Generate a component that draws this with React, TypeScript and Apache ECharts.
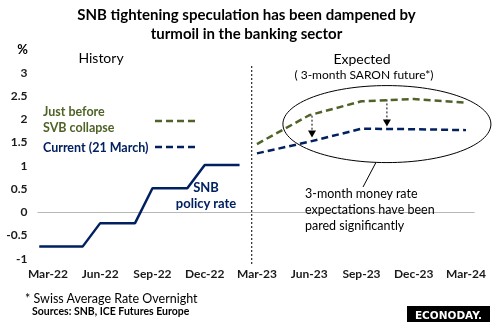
import React, { useEffect, useRef } from 'react';
import * as echarts from 'echarts';

// ---------- data ----------
const xTickValues = [0, 3, 6, 9, 12, 15, 18, 21, 24]; // months since Mar-22
const xTickLabels = ['Mar-22', 'Jun-22', 'Sep-22', 'Dec-22', 'Mar-23', 'Jun-23', 'Sep-23', 'Dec-23', 'Mar-24'];

const policyMonths = [-0.5, 2, 3, 5, 6, 8, 9, 11];
const policyRate = [-0.75, -0.75, -0.25, -0.25, 0.5, 0.5, 1.0, 1.0];

const futuresMonths = [12, 15, 18, 21, 24];
const beforeSVB = [1.45, 2.07, 2.37, 2.42, 2.34];
const current21Mar = [1.25, 1.5, 1.78, 1.77, 1.75];

// ---------- annotation anchors (data space) ----------
const xMin = -0.6;
const xMax = 24.5;
const dividerMonth = 11.7;
const ellipseCenter = [19.46, 1.88];
const arrowMarks = [
  { m: 15.16, from: 2.06, to: 1.59 },
  { m: 19.46, from: 2.41, to: 1.83 },
];

const GREEN = '#4F6228';
const NAVY = '#002060';
const FONT = 'Lato';

export default function App() {
  const ref = useRef<HTMLDivElement>(null);

  useEffect(() => {
    const chart = echarts.init(ref.current as HTMLDivElement, null, { renderer: 'svg' });
    const zip = (xs: number[], ys: number[]) => xs.map((x, i) => [x, ys[i]]);

    chart.setOption({
      animation: false,
      title: {
        text: 'SNB tightening speculation has been dampened by\nturmoil in the banking sector',
        left: 'center',
        top: 4,
        padding: 0,
        textStyle: { fontFamily: FONT, fontSize: 15, fontWeight: 'bold', color: '#000', lineHeight: 19 },
      },
      grid: { left: 37.5, right: 18.3, top: 72, bottom: 69 },
      xAxis: {
        type: 'value',
        min: xMin,
        max: xMax,
        axisLine: { show: false },
        axisTick: { show: false },
        splitLine: { show: false },
        axisLabel: {
          customValues: xTickValues,
          formatter: (v: number) => xTickLabels[xTickValues.indexOf(Math.round(v))] ?? '',
          margin: 9,
          fontFamily: FONT,
          fontSize: 12,
          fontWeight: 'bold',
          color: '#1a1a1a',
        },
      },
      yAxis: {
        type: 'value',
        min: -1,
        max: 3,
        interval: 0.5,
        axisLine: { show: false },
        axisTick: { show: false },
        splitLine: { show: false },
        axisLabel: { margin: 10, fontFamily: FONT, fontSize: 12, fontWeight: 'bold', color: '#1a1a1a' },
      },
      series: [
        {
          name: 'SNB policy rate',
          type: 'line',
          data: zip(policyMonths, policyRate),
          symbol: 'none',
          z: 3,
          lineStyle: { color: NAVY, width: 2.5 },
        },
        {
          name: 'Just before SVB collapse',
          type: 'line',
          data: zip(futuresMonths, beforeSVB),
          symbol: 'none',
          z: 3,
          lineStyle: { color: GREEN, width: 2.5, type: [7, 4] },
        },
        {
          name: 'Current (21 March)',
          type: 'line',
          data: zip(futuresMonths, current21Mar),
          symbol: 'none',
          z: 3,
          lineStyle: { color: NAVY, width: 2.5, type: [7, 4] },
        },
      ],
    });

    const px = (m: number, v: number) => chart.convertToPixel({ gridIndex: 0 }, [m, v]) as number[];

    const txt = (text: string, x: number, y: number, o: any = {}) => ({
      type: 'text',
      silent: true,
      style: {
        text,
        x,
        y,
        fill: o.fill ?? '#000',
        fontFamily: FONT,
        fontSize: o.size ?? 13,
        fontWeight: o.weight ?? 'normal',
        textAlign: o.align ?? 'left',
        textVerticalAlign: 'middle',
      },
    });

    const z0 = px(xMin, 0);
    const z1 = px(xMax, 0);
    const zeroY = Math.round(z0[1]) + 0.5;
    const divX = px(dividerMonth, 0)[0];
    const ec = px(ellipseCenter[0], ellipseCenter[1]);
    const rx = 104;
    const ry = 38.5;
    const calloutTopX = 376;
    const calloutTopY = ec[1] + ry * Math.sqrt(1 - Math.pow((calloutTopX - ec[0]) / rx, 2));

    const arrows: any[] = [];
    arrowMarks.forEach((a) => {
      const p1 = px(a.m, a.from);
      const p2 = px(a.m, a.to);
      arrows.push({
        type: 'line',
        silent: true,
        shape: { x1: p1[0], y1: p1[1], x2: p2[0], y2: p2[1] - 6 },
        style: { stroke: '#000', lineWidth: 1, lineDash: [2, 2] },
      });
      arrows.push({
        type: 'polygon',
        silent: true,
        shape: { points: [[p2[0] - 4, p2[1] - 7], [p2[0] + 4, p2[1] - 7], [p2[0], p2[1]]] },
        style: { fill: '#000' },
      });
    });

    chart.setOption({
      graphic: [
        {
          type: 'rect',
          silent: true,
          shape: { x: z0[0], y: zeroY - 0.5, width: z1[0] - z0[0], height: 1 },
          style: { fill: '#b8b8b8' },
        },
        txt('%', 28, 49, { align: 'right', size: 13, weight: 'bold' }),
        txt('History', 101, 57, { align: 'center', size: 14 }),
        txt('Expected', 362, 58, { align: 'center', size: 14 }),
        txt('( 3-month SARON future*)', 364, 74, { align: 'center', size: 12 }),
        {
          type: 'line',
          silent: true,
          shape: { x1: divX, y1: 66, x2: divX, y2: 264 },
          style: { stroke: '#000', lineWidth: 1, lineDash: [2, 2] },
        },
        txt('Just before', 43, 111, { fill: GREEN, size: 12.5, weight: 'bold' }),
        txt('SVB collapse', 43, 127, { fill: GREEN, size: 12.5, weight: 'bold' }),
        txt('Current (21 March)', 43, 147, { fill: NAVY, size: 12.5, weight: 'bold' }),
        {
          type: 'line',
          silent: true,
          shape: { x1: 155, y1: 121, x2: 195, y2: 121 },
          style: { stroke: GREEN, lineWidth: 2.5, lineDash: [7, 4] },
        },
        {
          type: 'line',
          silent: true,
          shape: { x1: 155, y1: 147, x2: 195, y2: 147 },
          style: { stroke: NAVY, lineWidth: 2.5, lineDash: [7, 4] },
        },
        txt('SNB', 206, 187, { fill: NAVY, size: 13, weight: 'bold', align: 'center' }),
        txt('policy rate', 206, 203, { fill: NAVY, size: 13, weight: 'bold', align: 'center' }),
        {
          type: 'ellipse',
          silent: true,
          shape: { cx: ec[0], cy: ec[1], rx, ry },
          style: { fill: 'none', stroke: '#000', lineWidth: 1 },
        },
        {
          type: 'line',
          silent: true,
          shape: { x1: calloutTopX, y1: calloutTopY, x2: 363, y2: 187 },
          style: { stroke: '#000', lineWidth: 1 },
        },
        ...arrows,
        txt('3-month money rate', 305, 193, { size: 12.5 }),
        txt('expectations have been', 305, 209, { size: 12.5 }),
        txt('pared significantly', 305, 225, { size: 12.5 }),
        txt('* Swiss Average Rate Overnight', 25, 298, { size: 12.5 }),
        txt('Sources: SNB, ICE Futures Europe', 32, 311, { size: 10.5, weight: 'bold' }),
        {
          type: 'rect',
          silent: true,
          shape: { x: 407, y: 306, width: 83, height: 16 },
          style: { fill: '#000' },
        },
        {
          type: 'text',
          silent: true,
          style: {
            text: 'ECONODAY.',
            x: 448.5,
            y: 314.5,
            fill: '#fff',
            fontFamily: 'DejaVu Sans',
            fontSize: 10.5,
            fontWeight: 'bold',
            textAlign: 'center',
            textVerticalAlign: 'middle',
          },
        },
      ],
    });

    return () => chart.dispose();
  }, []);

  return <div ref={ref} style={{ position: 'fixed', left: 0, top: 0, width: 493, height: 327 }} />;
}
